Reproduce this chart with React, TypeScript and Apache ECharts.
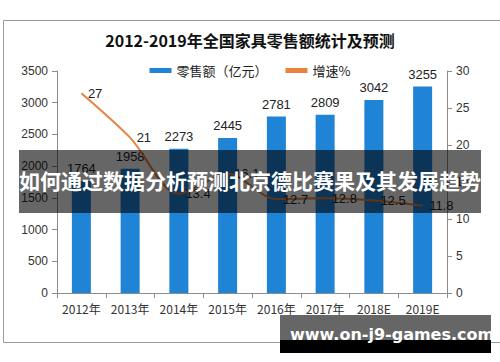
import React, { useEffect, useRef } from "react";
import * as echarts from "echarts";

const categories = ["2012年", "2013年", "2014年", "2015年", "2016年", "2017年", "2018E", "2019E"];
const salesValues = [1764, 1958, 2273, 2445, 2781, 2809, 3042, 3255];
const growthValues = [27, 21, 13.4, 16.1, 12.7, 12.8, 12.5, 11.8];
const leftTicks = { min: 0, max: 3500, interval: 500 };
const rightTicks = { min: 0, max: 30, interval: 5 };
const titleText = "2012-2019年全国家具零售额统计及预测";
const salesName = "零售额（亿元）";
const growthName = "增速%";
const bannerText = "如何通过数据分析预测北京德比赛果及其发展趋势";
const siteText = "www.on-j9-games.com";

const CJK = '"Noto Sans CJK SC", "Liberation Sans", sans-serif';
const AX = '"Liberation Sans", "Noto Sans CJK SC", sans-serif';

export default function App() {
  const ref = useRef<HTMLDivElement>(null);
  useEffect(() => {
    if (!ref.current) return;
    const chart = echarts.init(ref.current, null, { renderer: "svg" });
    chart.setOption({
      animation: false,
      backgroundColor: "#ffffff",
      title: {
        text: titleText,
        left: "center",
        top: 27,
        textStyle: { fontFamily: CJK, fontSize: 16, fontWeight: "bold", color: "#111" },
      },
      legend: {
        top: 59,
        left: "center",
        itemGap: 18,
        itemWidth: 22,
        itemHeight: 5,
        textStyle: { fontFamily: CJK, fontSize: 13, color: "#222" },
        data: [
          { name: salesName, icon: "rect" },
          { name: growthName, icon: "rect", itemStyle: { color: "#E8823E", opacity: 1 } },
        ],
      },
      grid: { left: 57, right: 53, top: 71, bottom: 69 },
      xAxis: {
        type: "category",
        data: categories,
        axisLine: { lineStyle: { color: "#8c8c8c" } },
        axisTick: { show: true, alignWithLabel: false, lineStyle: { color: "#8c8c8c" } },
        axisLabel: { fontFamily: CJK, fontSize: 12, color: "#333", margin: 9, interval: 0 },
      },
      yAxis: [
        {
          type: "value",
          ...leftTicks,
          splitLine: { show: false },
          axisLine: { show: true, lineStyle: { color: "#8c8c8c" } },
          axisTick: { show: true, length: 5, lineStyle: { color: "#8c8c8c" } },
          axisLabel: {
            fontFamily: AX,
            fontSize: 12,
            color: "#333",
            margin: 9,
            formatter: (v: number) => String(v),
          },
        },
        {
          type: "value",
          ...rightTicks,
          splitLine: { show: false },
          axisLine: { show: true, lineStyle: { color: "#8c8c8c" } },
          axisTick: { show: true, length: 5, lineStyle: { color: "#8c8c8c" } },
          axisLabel: { fontFamily: AX, fontSize: 12, color: "#333", margin: 9 },
        },
      ],
      series: [
        {
          name: salesName,
          type: "bar",
          data: salesValues,
          barWidth: 19,
          itemStyle: { color: "#1F83D6" },
          label: {
            show: true,
            position: "top",
            distance: 6,
            fontFamily: AX,
            fontSize: 13,
            color: "#222",
          },
        },
        {
          name: growthName,
          type: "line",
          yAxisIndex: 1,
          data: growthValues,
          smooth: 0.3,
          showSymbol: true,
          symbol: "circle",
          symbolSize: 1,
          lineStyle: { color: "#E8823E", width: 2 },
          itemStyle: { color: "#E8823E", opacity: 0 },
          label: {
            show: true,
            position: "right",
            distance: 6,
            fontFamily: AX,
            fontSize: 13,
            color: "#222",
            opacity: 1,
          },
          z: 5,
        },
      ],
      graphic: [
        {
          type: "rect",
          left: 1,
          top: 18,
          shape: { width: 497, height: 322 },
          style: { fill: "none", stroke: "#9a9a9a", lineWidth: 1 },
          silent: true,
          z: 1,
        },
        {
          type: "rect",
          left: 19,
          top: 150,
          shape: { width: 462, height: 63 },
          style: { fill: "rgba(0,0,0,0.6)" },
          z: 100,
        },
        {
          type: "text",
          left: "center",
          top: 169,
          style: {
            text: bannerText,
            fill: "#ffffff",
            fontFamily: CJK,
            fontSize: 21,
            fontWeight: "bold",
          },
          z: 101,
        },
        {
          type: "rect",
          left: 280,
          top: 315,
          shape: { width: 211, height: 25 },
          style: { fill: "rgba(0,0,0,0.6)" },
          z: 100,
        },
        {
          type: "rect",
          left: 280,
          top: 340,
          shape: { width: 211, height: 13 },
          style: { fill: "#000000" },
          z: 100,
        },
        {
          type: "text",
          left: 290,
          top: 326,
          style: {
            text: siteText,
            fill: "#ffffff",
            fontFamily: '"DejaVu Sans", sans-serif',
            fontSize: 16,
            fontWeight: "bold",
          },
          z: 101,
        },
      ],
    });
    return () => chart.dispose();
  }, []);
  return (
    <div
      ref={ref}
      style={{ position: "fixed", left: 0, top: 0, width: 500, height: 362 }}
    />
  );
}
